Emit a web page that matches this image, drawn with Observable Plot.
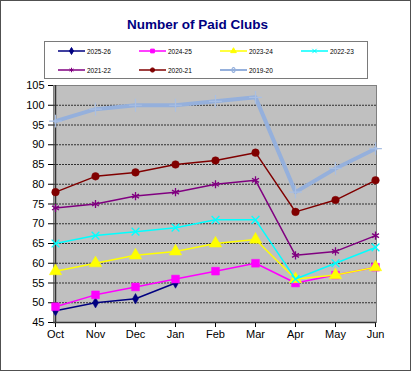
<!DOCTYPE html>
<html>
<head>
<meta charset="utf-8">
<script src="https://cdn.jsdelivr.net/npm/d3@7"></script>
<script src="https://cdn.jsdelivr.net/npm/@observablehq/plot@0.6"></script>
<style>
  html, body { margin: 0; padding: 0; background: #fff; }
  #wrap { position: relative; width: 411px; height: 371px; overflow: hidden; font-family: "Liberation Sans", Arial, sans-serif; }
  #wrap svg.plot { position: absolute; left: 0; top: 0; }
  #border { position: absolute; left: 0; top: 0; width: 411px; height: 371px; box-sizing: border-box; border: 1px solid #505050; pointer-events: none; }
  #title { position: absolute; left: 0; width: 395px; top: 17px; text-align: center; font-weight: bold; font-size: 13.5px; color: #000080; }
  #legend { position: absolute; left: 44px; top: 41px; width: 324px; height: 38px; box-sizing: border-box; border: 1px solid #7a7a7a; background: #fff; }
  .item { position: absolute; height: 10px; display: flex; align-items: center; font-size: 6.5px; color: #000; white-space: nowrap; }
  .item svg { margin-right: 2px; }
</style>
</head>
<body>
<div id="wrap">
  <div id="title">Number of Paid Clubs</div>
  <div id="legend"></div>
  <div id="border"></div>
</div>
<script>
const months = ["Oct","Nov","Dec","Jan","Feb","Mar","Apr","May","Jun"];
const seasons = ["2025-26","2024-25","2023-24","2022-23","2021-22","2020-21","2019-20"];
const v2025_26 = [48, 50, 51, 55];
const v2024_25 = [49, 52, 54, 56, 58, 60, 55, 57, 59];
const v2023_24 = [58, 60, 62, 63, 65, 66, 56, 57, 59];
const v2022_23 = [65, 67, 68, 69, 71, 71, 56, 60, 64];
const v2021_22 = [74, 75, 77, 78, 80, 81, 62, 63, 67];
const v2020_21 = [78, 82, 83, 85, 86, 88, 73, 76, 81];
const v2019_20 = [96, 99, 100, 100, 101, 102, 78, 84, 89];
const yTicks = [45, 50, 55, 60, 65, 70, 75, 80, 85, 90, 95, 100, 105];

const values = [v2025_26, v2024_25, v2023_24, v2022_23, v2021_22, v2020_21, v2019_20];
const styles = [
  {color: "#000080", symbol: "diamond", r: 3.2, filled: true, width: 1.5},
  {color: "#FF00FF", symbol: "square", r: 4.4, filled: true, width: 1.5},
  {color: "#FFFF00", symbol: "triangle", r: 4.6, filled: true, width: 1.5},
  {color: "#00FFFF", symbol: "times", r: 3.6, filled: false, width: 1.5},
  {color: "#800080", symbol: "asterisk", r: 3.8, filled: false, width: 1.5},
  {color: "#800000", symbol: "circle", r: 3.8, filled: true, width: 1.5},
  {color: "#95B0DC", symbol: "plus", r: 4.2, filled: false, width: 4}
];

const marks = [
  Plot.frame({fill: "#C0C0C0", stroke: "#808080"}),
  Plot.gridY(yTicks.slice(1, -1), {stroke: "#000", strokeOpacity: 0.75, strokeDasharray: "2,1"}),
  Plot.axisY({ticks: yTicks, tickSize: 5, tickPadding: 4, fontSize: 11, label: null}),
  Plot.axisX({tickSize: 5, tickPadding: 3, fontSize: 11, label: null}),
  Plot.ruleX([months[0]], {stroke: "#333", strokeWidth: 1.5}),
  Plot.ruleY([yTicks[0]], {stroke: "#333", strokeWidth: 1.5})
];

seasons.forEach((s, i) => {
  const st = styles[i];
  const data = values[i].map((v, j) => ({month: months[j], value: v}));
  marks.push(Plot.line(data, {x: "month", y: "value", stroke: st.color, strokeWidth: st.width}));
  if (st.filled) {
    marks.push(Plot.dot(data, {x: "month", y: "value", symbol: st.symbol, r: st.r, fill: st.color, stroke: st.color, strokeWidth: 0.5}));
  } else {
    marks.push(Plot.dot(data, {x: "month", y: "value", symbol: st.symbol, r: st.r, stroke: i === 6 ? "#A9BFE3" : st.color, strokeWidth: i === 6 ? 1.2 : 1.3}));
  }
});

const chart = Plot.plot({
  width: 411,
  height: 371,
  marginLeft: 53,
  marginRight: 35,
  marginTop: 85,
  marginBottom: 49,
  style: {fontFamily: "'Liberation Sans', Arial, sans-serif", fontSize: "11px", background: "transparent", color: "#000"},
  x: {type: "point", domain: months, padding: 0},
  y: {domain: [45, 105]},
  marks
});
const wrap = document.getElementById("wrap");
wrap.insertBefore(chart, wrap.firstChild);

// legend
const symMap = {diamond: d3.symbolDiamond, square: d3.symbolSquare, triangle: d3.symbolTriangle, times: d3.symbolTimes, circle: d3.symbolCircle, plus: d3.symbolCross, asterisk: d3.symbolAsterisk};
const legend = document.getElementById("legend");
seasons.forEach((s, i) => {
  const st = styles[i];
  const col = i % 4, row = Math.floor(i / 4);
  const item = document.createElement("div");
  item.className = "item";
  item.style.left = (13 + col * 81) + "px";
  item.style.top = (4 + row * 19) + "px";
  const svg = d3.create("svg").attr("width", 27).attr("height", 8);
  svg.append("line").attr("x1", 0).attr("x2", 27).attr("y1", 4).attr("y2", 4)
    .attr("stroke", st.color).attr("stroke-width", Math.min(st.width, 2));
  const path = d3.symbol(symMap[st.symbol] || d3.symbolCircle, 14)();
  svg.append("path").attr("d", path).attr("transform", "translate(13.5,4)")
    .attr("fill", st.filled ? st.color : "none").attr("stroke", st.color).attr("stroke-width", 1);
  item.appendChild(svg.node());
  const t = document.createElement("span");
  t.textContent = s;
  item.appendChild(t);
  legend.appendChild(item);
});
</script>
</body>
</html>
